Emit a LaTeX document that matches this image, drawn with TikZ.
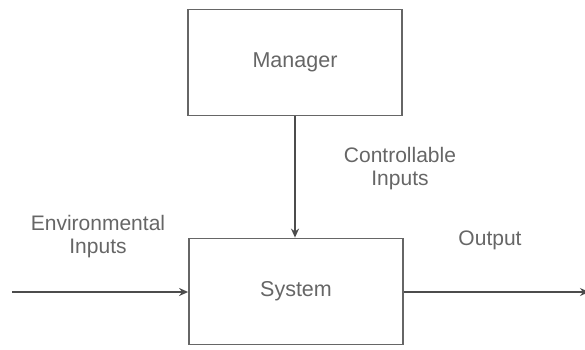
\documentclass[tikz,border=0pt]{standalone}
\usepackage{fontspec}
\setmainfont{Liberation Sans}
\usetikzlibrary{arrows.meta}

\tikzset{
  block/.style={draw=black!60, line width=1.8pt, minimum width=214pt, minimum height=106pt, inner sep=0pt,
    text=black!60, font=\fontsize{21.5}{23}\selectfont},
  flow/.style={draw=black!70, line width=1.5pt, -{Stealth[length=9pt,width=8pt]}},
  lbl/.style={text=black!60, font=\fontsize{21}{23}\selectfont, align=center}
}

\begin{document}
\begin{tikzpicture}[x=1pt,y=-1pt]
\useasboundingbox (0,0) rectangle (585,349);

    % The two boxes
    \node[block] (manager) at (295,62.5) {Manager};
    \node[block] (system) at (296,291.5) {System};

    % Free ends of the outer arrows
    \coordinate (envin) at (12,292);
    \coordinate (outend) at (589,292);

    % Arrows
    \draw[flow] (manager.south) -- (system.north -| manager.south);
    \draw[flow] (envin) -- (system.west |- envin);
    \draw[flow] (system.east |- outend) -- (outend);

    % Labels
    \node[lbl] (envlbl) at (98,237) {Environmental\\Inputs};
    \node[lbl] (ctrllbl) at (400,169) {Controllable\\Inputs};
    \node[lbl] (outlbl) at (490,240) {Output};
\end{tikzpicture}
\end{document}
